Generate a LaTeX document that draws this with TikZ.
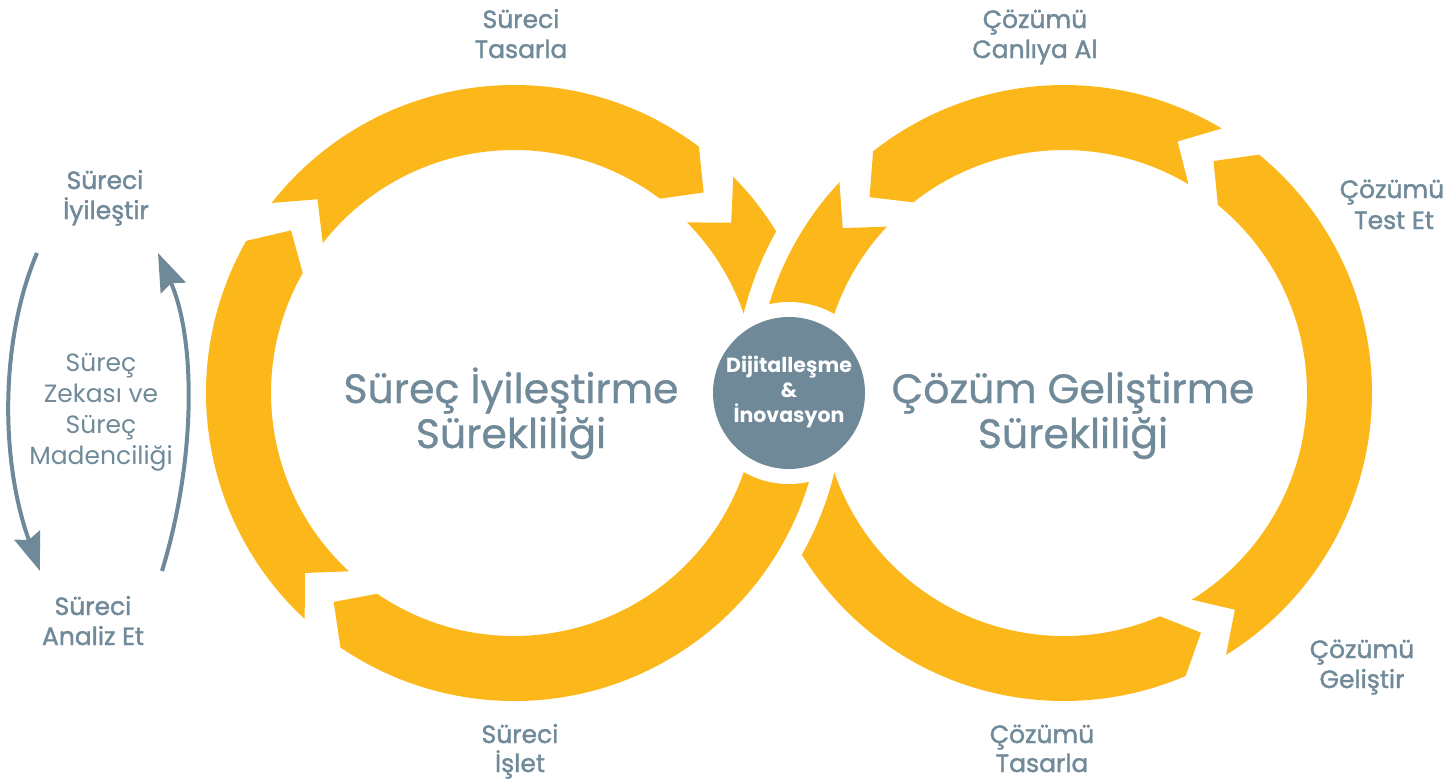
\documentclass[tikz,border=0pt]{standalone}
\usepackage{fontspec}
\setmainfont{Poppins}
\newfontfamily\labelfont[FakeBold=1.5]{Poppins}
\newfontfamily\titlefont[FakeBold=0.7]{Poppins}
\newfontfamily\regfont{Poppins}
\usetikzlibrary{arrows.meta}
\definecolor{ylw}{RGB}{252,183,27}
\definecolor{slate}{RGB}{111,137,152}
\definecolor{txt}{RGB}{112,138,153}
\begin{document}
\begin{tikzpicture}[x=1pt,y=-1pt,
  halo/.style={preaction={draw=white,line width=44pt,line join=round}},
  piece/.style={fill=ylw},
  lbl/.style={text=txt,font=\labelfont\fontsize{25}{30}\selectfont,anchor=base,inner sep=0pt},
  midtxt/.style={text=txt,font=\regfont\fontsize{25}{30}\selectfont,anchor=base,inner sep=0pt},
  ttl/.style={text=txt,font=\titlefont\fontsize{41}{45}\selectfont,anchor=base,inner sep=0pt},
  hubtxt/.style={text=white,font=\bfseries\fontsize{20.5}{25}\selectfont,anchor=base,inner sep=0pt},
  arr/.style={draw=slate,line width=4pt,-{Stealth[length=38pt,width=27pt,inset=5pt]}}]
\useasboundingbox (0,0) rectangle (1451,780);
\fill[white] (0,0) rectangle (1451,780);
\def\Ro{308}\def\Ri{243}\def\Rm{276}
% left ring arrowhead piece (under the right ring)
\begin{scope}[shift={(514,393)}]
\path[piece] (315.4:\Ro) arc[start angle=315.4,end angle=355,radius=\Ro] -- (355:\Ri) arc[start angle=355,end angle=315.4,radius=\Ri] -- (321.9:\Rm) -- cycle;
\end{scope}
% right ring lower-left piece (under the left ring)
\begin{scope}[shift={(1064,393)}]
\path[piece] (185:\Ro) arc[start angle=185,end angle=66.75,radius=\Ro] -- (60.25:\Rm) -- (66.75:\Ri) arc[start angle=66.75,end angle=185,radius=\Ri] -- cycle;
\end{scope}
% left ring
\begin{scope}[shift={(514,393)}]
\path[piece,halo] (5:\Ro) arc[start angle=5,end angle=124.3,radius=\Ro] -- (130.8:\Rm) -- (124.3:\Ri) arc[start angle=124.3,end angle=5,radius=\Ri] -- cycle;
\path[piece] (132.8:\Ro) arc[start angle=132.8,end angle=209.6,radius=\Ro] -- (216.1:\Rm) -- (209.6:\Ri) arc[start angle=209.6,end angle=132.8,radius=\Ri] -- (139.3:\Rm) -- cycle;
\path[piece] (218.1:\Ro) arc[start angle=218.1,end angle=306.9,radius=\Ro] -- (313.4:\Rm) -- (306.9:\Ri) arc[start angle=306.9,end angle=218.1,radius=\Ri] -- (224.6:\Rm) -- cycle;
\end{scope}
% right ring
\begin{scope}[shift={(1064,393)}]
\path[piece,halo] (223.2:\Ro) arc[start angle=223.2,end angle=175,radius=\Ro] -- (175:\Ri) arc[start angle=175,end angle=223.2,radius=\Ri] -- (216.7:\Rm) -- cycle;
\path[piece] (300.8:\Ro) arc[start angle=300.8,end angle=231.7,radius=\Ro] -- (225.2:\Rm) -- (231.7:\Ri) arc[start angle=231.7,end angle=300.8,radius=\Ri] -- (294.3:\Rm) -- cycle;
\path[piece] (58.25:\Ro) arc[start angle=58.25,end angle=-50.7,radius=\Ro] -- (-57.2:\Rm) -- (-50.7:\Ri) arc[start angle=-50.7,end angle=58.25,radius=\Ri] -- (51.75:\Rm) -- cycle;
\end{scope}
% hub
\fill[white] (789,393) circle[radius=91];
\node[circle,fill=slate,minimum size=152pt,inner sep=0pt] (hub) at (789,393) {};
\node[hubtxt] (h1) at (789,372.7) {Dijitalleşme};
\node[hubtxt] (h2) at (789,397.3) {\&};
\node[hubtxt] (h3) at (789,422.3) {İnovasyon};
% titles
\node[ttl] (t1a) at (511,403) {Süreç İyileştirme};
\node[ttl] (t1b) at (511,448) {Sürekliliği};
\node[ttl] (t2a) at (1073,403) {Çözüm Geliştirme};
\node[ttl] (t2b) at (1073,448) {Sürekliliği};
% labels
\node[lbl] (l1a) at (521,28) {Süreci};
\node[lbl] (l1b) at (521,58) {Tasarla};
\node[lbl] (l2a) at (1035,28) {Çözümü};
\node[lbl] (l2b) at (1035,58) {Canlıya Al};
\node[lbl] (l3a) at (1392,198) {Çözümü};
\node[lbl] (l3b) at (1394,229) {Test Et};
\node[lbl] (l4a) at (1362,658) {Çözümü};
\node[lbl] (l4b) at (1362,688) {Geliştir};
\node[lbl] (l5a) at (1042,743) {Çözümü};
\node[lbl] (l5b) at (1042,772) {Tasarla};
\node[lbl] (l6a) at (520,743) {Süreci};
\node[lbl] (l6b) at (520,772) {İşlet};
\node[lbl] (l7a) at (105,189) {Süreci};
\node[lbl] (l7b) at (106,219) {İyileştir};
\node[lbl] (l8a) at (93,615) {Süreci};
\node[lbl] (l8b) at (93,645) {Analiz Et};
\node[midtxt] (m1) at (101,371) {Süreç};
\node[midtxt] (m2) at (101,402) {Zekası ve};
\node[midtxt] (m3) at (101,433) {Süreç};
\node[midtxt] (m4) at (101,464) {Madenciliği};
% side arrows
\coordinate (a1s) at (37,253);
\coordinate (a1e) at (40,571);
\coordinate (a2s) at (162,571);
\coordinate (a2e) at (158,253);
\draw[arr] (a1s) .. controls (0,340) and (0,460) .. (a1e);
\draw[arr] (a2s) .. controls (196,460) and (196,340) .. (a2e);
\end{tikzpicture}
\end{document}
